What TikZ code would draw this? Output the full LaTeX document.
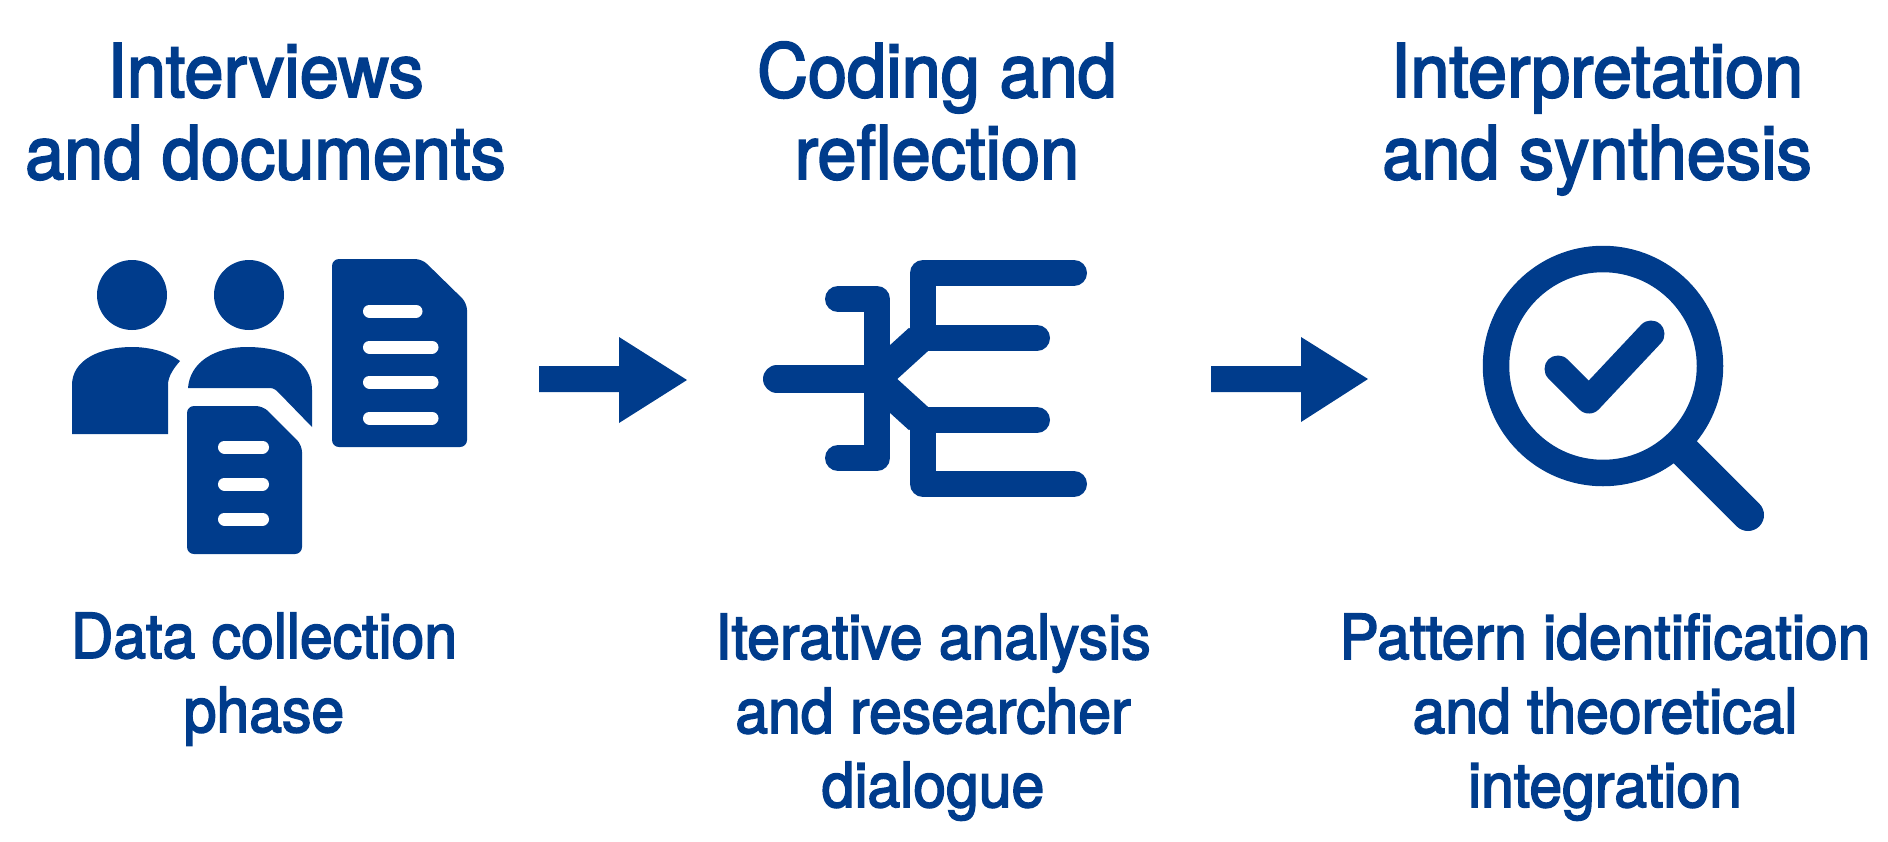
\documentclass[tikz,border=0pt]{standalone}
\usepackage{fontspec}
\setmainfont{TeX Gyre Heros}[FakeStretch=0.95,FakeBold=2.6]
\definecolor{navy}{HTML}{003C8C}
\tikzset{
  heading/.style={align=center,text=navy,anchor=base,font=\fontsize{74}{82}\selectfont},
  caption/.style={align=center,text=navy,anchor=base,font=\fontsize{62}{74}\selectfont},
  icon/.style={fill=navy,rounded corners=7pt},
  slot/.style={white,line width=13pt,line cap=round},
  branch/.style={navy,line width=26pt,line cap=round,line join=round},
  flow/.style={fill=navy},
}
\begin{document}
\begin{tikzpicture}[x=1pt,y=-1pt]
\useasboundingbox (0,0) rectangle (1888,841);

\node[heading] (interviews) at (265.5,179) {Interviews\\and documents};
\node[heading] (coding) at (937,179) {Coding and\\reflection};
\node[heading] (interpretation) at (1597,179) {Interpretation\\and synthesis};

% people
\fill[navy] (132,295) circle (35);
\fill[navy] (249,295) circle (35);
\fill[navy] (72,434) -- (72,385) .. controls (72,360) and (100,347) .. (132,347) .. controls (150,347) and (168,352) .. (180,361) .. controls (174,368) and (168,376) .. (168,385) -- (168,434) -- cycle;
\fill[navy] (188,388) .. controls (190,362) and (215,347) .. (247,347) .. controls (285,347) and (312,362) .. (312,390) -- (312,427) -- (278,392) .. controls (274,388) and (272,388) .. (268,388) -- cycle;

% documents
\fill[icon] (332,259) -- (422,259) -- (467,303) -- (467,447) -- (332,447) -- cycle;
\foreach \Y/\X in {311/416,347/432,382/432,418/432}{
    \draw[slot] (369.5,\Y) -- (\X,\Y);
}
\fill[icon] (187,406) -- (263,406) -- (302,445) -- (302,554) -- (187,554) -- cycle;
\foreach \Y in {447,484,519}{
    \draw[slot] (224.5,\Y) -- (262.5,\Y);
}

% arrows
\fill[flow] (539,366) -- (619,366) -- (619,337) -- (687,380) -- (619,423) -- (619,392) -- (539,392) -- cycle;
\fill[flow] (1211,366) -- (1301,366) -- (1301,337) -- (1368,379) -- (1301,422) -- (1301,392) -- (1211,392) -- cycle;

% tree
\draw[branch] (1074,273) -- (923,273) -- (923,338);
\draw[branch] (1037,338) -- (918,338);
\draw[branch] (1037,420) -- (918,420);
\draw[branch,line width=30pt,line cap=butt] (875,379) -- (919,339);
\draw[branch,line width=30pt,line cap=butt] (875,379) -- (919,419);
\draw[branch] (923,420) -- (923,484) -- (1074,484);
\draw[branch,line width=28pt] (777,379) -- (877,379);
\draw[branch] (838,299) -- (877,299) -- (877,458) -- (838,458);

% magnifier
\draw[navy,line width=26.5pt] (1603,366) circle (107);
\draw[navy,line width=32pt,line cap=round] (1685,452) -- (1748,515);
\draw[navy,line width=27pt,line cap=round,line join=round] (1558,369) -- (1589,400) -- (1651,334);

\node[caption] (collection) at (264,732) {Data collection\\phase};
\node[caption] (analysis) at (933,807) {Iterative analysis\\and researcher\\dialogue};
\node[caption] (pattern) at (1605,807) {Pattern identification\\and theoretical\\integration};
\end{tikzpicture}
\end{document}
